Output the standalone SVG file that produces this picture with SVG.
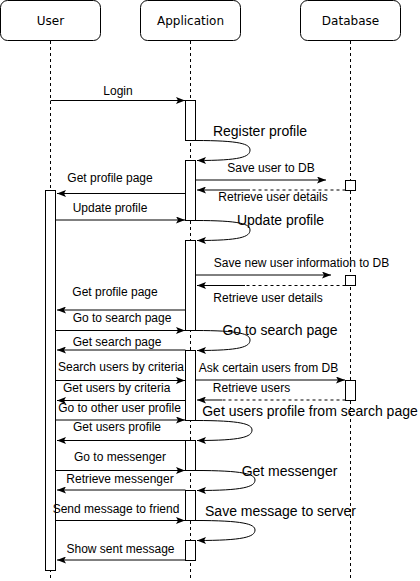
<svg xmlns="http://www.w3.org/2000/svg" width="420" height="581" viewBox="0 0 420 581">
<style>
.hdr{fill:#fff;stroke:#000;stroke-width:1}
.ht{font-family:"DejaVu Sans",Verdana,sans-serif;font-size:12px;fill:#000;text-anchor:middle}
.life{stroke:#000;stroke-width:1;stroke-dasharray:3 3;fill:none}
.act{fill:#fff;stroke:#000;stroke-width:1}
.msg{stroke:#000;stroke-width:1;fill:none;marker-end:url(#arr)}
.ret{stroke:#000;stroke-width:1;fill:none;stroke-dasharray:3 3}
.ln{stroke:#000;stroke-width:1;fill:none}
.lb{font-family:"Liberation Sans",Arial,sans-serif;font-size:12px;fill:#000;text-anchor:middle}
.lbs{font-family:"Liberation Sans",Arial,sans-serif;font-size:14px;fill:#000;text-anchor:middle}
</style>
<defs>
<marker id="arr" viewBox="0 0 9 7" markerWidth="9" markerHeight="7" refX="9" refY="3.5" orient="auto" markerUnits="userSpaceOnUse">
<path d="M0,0 L9,3.5 L0,7 L2,3.5 z" fill="#000"/>
</marker>
</defs>
<rect width="420" height="581" fill="#fff"/>

<g id="user">
<rect class="hdr" x="0.5" y="0.5" width="100" height="40" rx="7" ry="7"/>
<text class="ht" x="50.5" y="24.5">User</text>
<line class="life" x1="50.5" y1="41" x2="50.5" y2="578"/>
<rect class="act" x="45.5" y="190.5" width="10" height="380"/>
</g>

<g id="application">
<rect class="hdr" x="140.5" y="0.5" width="100" height="40" rx="7" ry="7"/>
<text class="ht" x="190.5" y="24.5">Application</text>
<line class="life" x1="190.5" y1="41" x2="190.5" y2="578"/>
<rect class="act" x="185.5" y="100.5" width="10" height="40"/>
<rect class="act" x="185.5" y="160.5" width="10" height="60"/>
<rect class="act" x="185.5" y="240.5" width="10" height="90"/>
<rect class="act" x="185.5" y="350.5" width="10" height="70"/>
<rect class="act" x="185.5" y="440.5" width="10" height="30"/>
<rect class="act" x="185.5" y="490.5" width="10" height="30"/>
<rect class="act" x="185.5" y="540.5" width="10" height="20"/>
</g>

<g id="database">
<rect class="hdr" x="300.5" y="0.5" width="100" height="40" rx="7" ry="7"/>
<text class="ht" x="350.5" y="24.5">Database</text>
<line class="life" x1="350.5" y1="41" x2="350.5" y2="578"/>
<rect class="act" x="345.5" y="180.5" width="10" height="10"/>
<rect class="act" x="345.5" y="275.5" width="10" height="10"/>
<rect class="act" x="345.5" y="380.5" width="10" height="20"/>
</g>

<g id="connectors">
<!-- Login -->
<line class="msg" x1="50.5" y1="100.5" x2="185" y2="100.5"/>
<!-- Register profile self -->
<path class="msg" d="M195.5,140.5 C240,140.5 250,144 250,150 C250,157 240,160.5 197,160.5"/>
<!-- Save user to DB -->
<line class="msg" x1="195.5" y1="180" x2="326" y2="180"/>
<!-- Retrieve user details -->
<line class="ret" x1="345.5" y1="190" x2="250" y2="190"/>
<line class="msg" x1="250" y1="190" x2="197" y2="190"/>
<!-- Get profile page -->
<line class="msg" x1="185.5" y1="193.5" x2="57" y2="193.5"/>
<!-- Update profile -->
<line class="msg" x1="55.5" y1="220" x2="185" y2="220"/>
<!-- Update profile self -->
<path class="msg" d="M195.5,220.5 C240,220.5 250,224 250,230 C250,237 240,240.5 197,240.5"/>
<!-- Save new user information to DB -->
<line class="msg" x1="195.5" y1="275" x2="331" y2="275"/>
<!-- Retrieve user details -->
<line class="ret" x1="345.5" y1="285.5" x2="245" y2="285.5"/>
<line class="msg" x1="245" y1="285.5" x2="197" y2="285.5"/>
<!-- Get profile page -->
<line class="msg" x1="185.5" y1="310" x2="57" y2="310"/>
<!-- Go to search page -->
<line class="msg" x1="55.5" y1="330.5" x2="185" y2="330.5"/>
<!-- Go to search page self -->
<path class="msg" d="M195.5,330.5 C240,330.5 250,334 250,340 C250,347 240,350.5 197,350.5"/>
<!-- Get search page -->
<line class="msg" x1="185.5" y1="350" x2="57" y2="350"/>
<!-- Search users by criteria -->
<line class="msg" x1="55.5" y1="380.5" x2="185" y2="380.5"/>
<!-- Ask certain users from DB -->
<line class="msg" x1="195.5" y1="380" x2="345" y2="380"/>
<!-- Get users by criteria -->
<line class="msg" x1="185.5" y1="400.5" x2="57" y2="400.5"/>
<!-- Retrieve users -->
<line class="ret" x1="345.5" y1="400" x2="222" y2="400"/>
<line class="msg" x1="222" y1="400" x2="197" y2="400"/>
<!-- Go to other user profile -->
<line class="msg" x1="55.5" y1="420" x2="185" y2="420"/>
<!-- Get users profile from search page self -->
<path class="msg" d="M195.5,420.5 C241,420.5 252,424 252,430 C252,437 241,440.5 197,440.5"/>
<!-- Get users profile -->
<line class="msg" x1="185.5" y1="440.5" x2="57" y2="440.5"/>
<!-- Go to messenger -->
<line class="msg" x1="55.5" y1="470.5" x2="185" y2="470.5"/>
<!-- Get messenger self -->
<path class="msg" d="M195.5,470.5 C243,470.5 255,474 255,480 C255,487 243,490.5 197,490.5"/>
<!-- Retrieve messenger -->
<line class="msg" x1="185.5" y1="490" x2="57" y2="490"/>
<!-- Send message to friend -->
<line class="msg" x1="55.5" y1="520.5" x2="185" y2="520.5"/>
<!-- Save message to server self -->
<path class="msg" d="M195.5,520.5 C243,520.5 255,524 255,530 C255,537 243,540.5 197,540.5"/>
<!-- Show sent message -->
<line class="msg" x1="185.5" y1="560" x2="57" y2="560"/>
</g>

<g id="labels">
<text class="lb" x="118" y="95">Login</text>
<text class="lbs" x="260" y="135.5">Register profile</text>
<text class="lb" x="271" y="172">Save user to DB</text>
<text class="lb" x="273" y="201">Retrieve user details</text>
<text class="lb" x="110" y="182">Get profile page</text>
<text class="lb" x="110" y="212">Update profile</text>
<text class="lbs" x="280.5" y="225">Update profile</text>
<text class="lb" x="301.5" y="267">Save new user information to DB</text>
<text class="lb" x="268" y="301.5">Retrieve user details</text>
<text class="lb" x="115" y="296">Get profile page</text>
<text class="lb" x="122" y="322">Go to search page</text>
<text class="lbs" x="280" y="335">Go to search page</text>
<text class="lb" x="117" y="346">Get search page</text>
<text class="lb" x="121" y="371">Search users by criteria</text>
<text class="lb" x="268.5" y="372">Ask certain users from DB</text>
<text class="lb" x="116.7" y="391.5">Get users by criteria</text>
<text class="lb" x="251.5" y="392">Retrieve users</text>
<text class="lb" x="119.5" y="412">Go to other user profile</text>
<text class="lbs" x="310" y="416">Get users profile from search page</text>
<text class="lb" x="117" y="431">Get users profile</text>
<text class="lb" x="120" y="461">Go to messenger</text>
<text class="lbs" x="289.5" y="475.5">Get messenger</text>
<text class="lb" x="120" y="483">Retrieve messenger</text>
<text class="lb" x="116" y="513">Send message to friend</text>
<text class="lbs" x="280.5" y="515.5">Save message to server</text>
<text class="lb" x="120.5" y="553">Show sent message</text>
</g>
</svg>
